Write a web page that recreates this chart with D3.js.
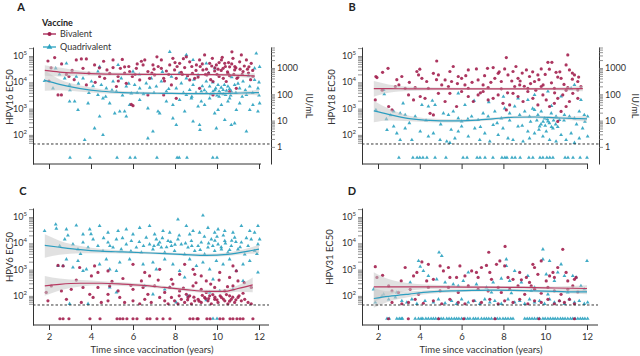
<!DOCTYPE html>
<html><head><meta charset="utf-8">
<script src="https://cdn.jsdelivr.net/npm/d3@7"></script>
<style>body{margin:0;background:#fff}svg{display:block}text{font-family:Lato,"Open Sans",sans-serif}</style>
</head><body>
<script>
// ---------- data: [years since vaccination, log10 EC50] ----------
const hpv16Bivalent = [[1.95,4.81],[2.27,4.94],[3.30,4.85],[3.54,4.89],[3.78,4.89],[5.05,4.85],[5.49,4.87],[6.56,4.85],[7.14,4.97],[7.35,4.85],[7.90,4.91],[8.54,4.97],[8.70,4.78],[9.17,4.85],[9.41,5.04],[9.78,4.91],[10.21,4.85],[10.71,5.16],[11.16,5.04],[11.40,4.85],[10.76,4.91],
[3.62,4.53],[4.17,4.66],[4.76,4.47],[5.05,4.56],[5.40,4.53],[5.60,4.59],[6.16,4.53],[6.48,4.66],[6.95,4.66],[7.35,4.53],[7.59,4.43],[7.75,4.66],[7.98,4.47],[8.22,4.72],[8.46,4.56],[9.02,4.66],[9.33,4.47],[9.65,4.72],[9.97,4.66],[10.29,4.53],[10.37,4.72],[10.60,4.59],[10.84,4.47],[11.08,4.78],[11.52,4.59],[11.63,4.72],[6.71,4.41],
[2.83,4.30],[2.95,4.22],[4.41,4.22],[4.65,4.15],[4.89,4.34],[5.29,4.22],[5.84,4.41],[5.97,4.22],[6.32,4.09],[6.79,4.15],[7.03,4.28],[7.46,4.15],[8.06,4.15],[8.35,4.30],[8.83,4.34],[8.94,4.15],[9.52,4.28],[9.89,4.43],[10.10,4.22],[10.52,4.34],[10.95,4.15],[11.24,4.41],[11.71,4.22],[8.70,4.09],[9.81,4.03],[10.44,4.03],
[2.43,3.52],[2.59,3.52],[3.78,3.90],[5.21,3.84],[5.92,3.16],[6.00,3.11],[6.71,3.52],[7.46,3.52],[8.06,3.39],[9.81,3.52],[9.17,3.77],[10.92,3.77],[5.68,3.96],[7.83,3.90],[10.60,3.65],
[8.1,4.6],[8.3,4.38],[8.6,4.25],[8.8,4.6],[9.0,4.45],[9.1,4.2],[9.3,4.7],[9.5,4.5],[9.6,4.35],[9.7,4.1],[9.9,4.55],[10.0,4.3],[10.1,4.75],[10.2,4.45],[10.3,4.15],[10.4,4.6],[10.5,4.4],[10.6,4.25],[10.7,4.7],[10.8,4.3],[10.9,4.55],[11.0,4.2],[11.1,4.5],[11.3,4.62],[11.5,4.35],[11.6,4.1],[6.2,4.7],[6.9,4.35],[7.2,4.6],[7.7,4.3],[5.6,4.35],[4.4,4.55],[3.1,4.45],[2.1,4.55],
[2.0,4.05],[2.6,4.7],[3.2,4.1],[3.9,4.35],[4.6,4.8],[5.3,4.05],[6.1,4.3],[6.4,4.8],[7.5,4.05],[8.0,4.75],[8.4,4.9],[9.2,4.6],[9.45,4.3],[9.75,4.62],[10.05,4.5],[10.25,4.95],[10.55,4.75],[10.85,4.6],[11.2,4.3],[11.45,4.5],[11.7,4.45],[7.0,4.5],[5.8,4.6],[4.2,4.0]];
const hpv16Quadrivalent = [[2.83,4.72],[4.41,4.59],[7.75,5.16],[8.54,5.04],[8.86,4.85],[9.49,4.72],[9.89,4.53],[11.87,5.10],[12.03,4.59],[11.79,4.53],[2.32,4.53],[1.79,4.05],[2.19,3.77],[6.00,4.41],[5.29,4.66],
[2.75,4.15],[2.98,3.90],[3.30,4.22],[3.62,4.15],[4.02,4.03],[4.33,4.41],[4.49,3.90],[4.73,3.77],[5.05,4.03],[5.21,3.65],[5.44,4.15],[5.68,3.84],[5.92,3.58],[6.08,3.90],[6.32,3.77],[6.63,3.96],[6.87,4.15],[7.11,3.84],[7.35,4.03],[7.59,3.65],[7.83,4.22],[8.06,3.77],[8.30,3.96],[8.54,4.15],[8.70,3.71],[8.86,3.90],[9.10,4.28],[9.25,3.65],[9.49,4.03],[9.65,3.84],[9.81,3.65],[9.94,3.77],[10.05,3.90],[10.16,3.58],[10.29,3.71],[10.41,3.52],[10.52,3.84],[10.68,3.65],[10.84,3.90],[11.08,3.77],[11.24,4.03],[11.40,3.52],[11.56,3.84],[11.79,4.09],[11.95,3.77],
[2.98,3.27],[3.22,3.27],[3.38,2.95],[3.86,3.20],[4.33,3.52],[4.57,3.39],[4.89,3.20],[5.13,2.82],[5.37,2.89],[5.60,2.89],[5.84,3.14],[6.32,3.33],[6.71,3.01],[7.19,2.89],[7.27,2.82],[7.59,3.27],[7.90,3.14],[8.22,3.33],[8.46,2.89],[8.78,3.39],[9.10,3.08],[9.25,3.27],[9.41,3.14],[9.89,2.82],[10.05,2.95],[10.21,3.14],[10.52,3.27],[10.60,3.39],[10.92,2.95],[11.08,3.20],[11.56,2.95],[11.71,3.14],[11.95,2.89],[12.03,3.20],[8.54,3.52],[9.65,3.39],
[4.17,2.25],[4.57,2.00],[4.41,2.70],[3.70,1.81],[5.68,2.70],[6.71,1.87],[6.95,2.13],[7.90,2.63],[8.06,2.38],[8.86,2.51],[9.17,2.38],[9.19,2.19],[9.97,2.25],[10.37,2.57],[10.68,2.38],[10.84,2.44],[11.40,2.13],
[9.5,3.6],[9.7,3.55],[9.9,3.7],[10.0,3.5],[10.1,3.65],[10.2,3.8],[10.3,3.55],[10.45,3.68],[10.6,3.75],[9.3,3.85],[9.0,3.6],[8.8,3.45],[10.9,3.6],[11.2,3.45],[7.0,3.6],[6.5,3.55],[5.5,3.5],[4.7,3.45],[3.9,3.6],[3.0,3.7],[8.2,4.35],[7.4,4.4],[6.3,4.3],[9.6,4.35],[10.7,4.2],[11.5,4.25],[12.0,4.0],[12.0,3.5],
[2.5,4.3],[3.4,3.95],[4.1,3.85],[5.0,3.7],[5.8,3.95],[6.2,3.6],[6.8,3.8],[7.7,3.75],[8.4,3.6],[8.9,4.1],[9.4,3.7],[9.8,4.0],[10.1,3.45],[10.35,3.9],[10.65,3.5],[11.0,3.95],[11.35,3.7],[11.7,3.6]];
const hpv16QuadUndetected = [3.0,3.95,5.24,5.86,6.1,7.14,8.1,8.2,8.57,9.8,10.0];
const hpv16BivUndetected = [];

const hpv18Bivalent = [[1.95,4.18],[1.90,4.22],[2.22,4.38],[2.48,4.53],[3.14,4.22],[3.86,4.41],[3.94,4.28],[4.10,4.15],[4.33,4.03],[4.65,4.34],[4.81,4.81],[4.89,4.28],[5.05,3.90],[5.21,4.09],[5.44,4.41],[5.52,4.03],[5.84,4.22],[6.00,4.15],[6.16,3.90],[6.32,4.47],[6.71,4.51],[6.79,4.09],[7.03,3.90],[7.24,4.53],[7.51,4.56],[7.59,4.15],[7.75,4.34],[7.90,4.03],[8.14,4.94],[8.06,4.51],[8.22,4.28],[8.46,4.41],[8.70,4.15],[8.78,3.90],[9.10,4.47],[9.25,4.22],[9.49,4.03],[9.65,4.28],[9.81,4.51],[10.13,4.76],[10.32,4.76],[10.52,4.38],[10.76,4.15],[11.08,5.04],[11.00,4.66],[11.16,4.47],[11.40,4.28],[11.56,4.03],[11.71,3.84],
[1.87,3.33],[2.51,3.08],[2.67,2.95],[3.46,3.52],[3.70,3.33],[4.02,3.46],[4.25,3.39],[4.49,2.82],[4.65,2.76],[4.89,3.58],[5.21,3.27],[5.44,3.58],[5.76,3.08],[6.00,3.65],[6.32,3.46],[6.56,3.27],[6.79,3.52],[7.03,3.65],[7.27,3.33],[7.51,3.39],[7.75,3.52],[7.98,3.20],[8.14,2.95],[8.30,3.14],[8.46,3.58],[8.70,3.46],[8.94,3.27],[9.17,3.65],[9.41,3.39],[9.65,3.14],[9.89,3.52],[10.05,3.33],[10.21,3.08],[10.44,3.20],[10.60,3.39],[10.84,3.52],[11.00,3.08],[11.16,3.27],[11.32,3.58],[11.56,3.39],[10.76,2.89],[10.60,2.51],
[2.83,3.84],[3.30,3.77],[3.78,3.80],[4.41,3.77],[5.37,3.84],[6.32,3.77],[7.27,3.80],[7.90,3.75],[8.54,3.84],[9.17,3.77],[9.81,3.84],[10.44,3.77],[11.08,3.80],[11.56,3.71],
[8.4,4.05],[8.9,4.35],[9.3,3.95],[9.7,4.1],[10.0,4.3],[10.3,3.98],[10.6,4.2],[10.9,3.92],[11.3,4.12],[7.1,4.25],[6.5,4.0],[5.8,3.95],[3.5,4.0],[2.9,4.1],
[2.2,3.7],[3.0,3.9],[4.0,4.5],[4.8,4.1],[5.6,4.6],[6.2,4.25],[6.9,3.6],[7.4,4.0],[7.8,4.4],[8.2,3.6],[8.6,4.6],[9.0,3.85],[9.4,4.4],[9.9,3.9],[10.2,4.5],[10.45,3.6],[10.7,4.4],[11.0,3.7],[11.3,4.35],[11.6,4.2],[8.8,4.05],[9.55,3.7]];
const hpv18Quadrivalent = [[2.27,3.71],[9.49,3.52],[10.13,3.65],[10.76,3.46],[11.24,3.77],[11.40,3.90],[11.71,3.33],[9.17,3.33],[8.70,3.39],[5.84,3.58],[8.0,3.45],[7.3,3.25],[6.6,3.3],[4.6,3.3],[3.2,3.2],[2.3,3.55],
[2.75,2.89],[3.06,2.82],[3.30,2.76],[3.78,2.70],[4.10,3.14],[4.41,3.08],[4.73,3.14],[5.13,2.82],[5.37,2.76],[5.60,2.89],[5.84,2.63],[6.00,2.51],[6.16,3.14],[6.48,2.70],[6.79,2.57],[7.03,2.82],[7.27,2.70],[7.59,2.89],[7.90,2.63],[8.06,3.01],[8.30,2.82],[8.54,3.08],[8.78,2.76],[9.02,2.89],[9.25,2.70],[9.49,2.95],[9.65,2.76],[9.81,2.89],[9.97,2.63],[10.13,2.51],[10.29,2.82],[10.52,2.70],[10.68,2.57],[10.92,2.76],[11.16,2.70],[11.40,2.63],[11.63,2.89],[11.87,2.76],[12.03,2.70],
[2.43,2.19],[2.75,2.32],[2.90,2.06],[3.06,1.81],[3.30,2.25],[3.62,1.81],[4.02,2.13],[4.41,1.94],[4.65,2.06],[4.97,1.81],[5.29,1.75],[5.44,1.70],[5.68,1.87],[5.84,2.13],[6.00,2.32],[6.32,1.94],[6.63,2.25],[6.87,1.81],[7.11,2.06],[7.35,1.75],[7.51,2.38],[7.75,2.00],[7.98,2.25],[8.22,1.87],[8.46,1.81],[8.70,2.32],[8.94,1.75],[9.17,2.13],[9.25,1.87],[9.49,2.06],[9.73,2.32],[9.89,1.94],[10.05,2.13],[10.21,1.81],[10.37,2.25],[10.52,1.75],[10.76,2.00],[11.00,1.81],[11.24,2.06],[11.40,1.70],[11.63,1.87],[11.79,2.25],[12.03,1.94],
[1.9,2.95],[2.4,2.6],[2.6,2.75],[9.8,2.4],[9.9,2.5],[10.0,2.35],[10.1,2.6],[10.2,2.45],[10.3,2.3],[10.4,2.55],[10.5,2.4],[9.6,2.55],[9.7,2.2],
[3.5,2.45],[4.3,2.55],[5.0,2.4],[5.5,2.2],[6.3,2.6],[6.9,2.3],[7.7,2.45],[8.3,2.55],[8.9,2.35],[9.3,2.5],[10.6,2.3],[10.9,2.55],[11.5,2.4],[11.9,2.5],[9.4,3.0],[10.3,3.1]];
const hpv18QuadUndetected = [3.0,3.67,3.87,4.0,4.15,4.34,4.73,5.25,6.07,6.26,6.74,6.88,7.12,7.5,7.93,8.07,8.17,8.41,8.56,8.8,9.22,9.41,9.75,9.89,10.08,10.22,10.37,10.95,11.09,11.33,11.67,12.0];
const hpv18BivUndetected = [];

const hpv6Bivalent = [[2.43,3.16],[2.67,3.14],[3.46,3.08],[4.02,2.76],[4.17,3.14],[4.33,2.89],[4.81,2.95],[6.00,3.20],[6.56,2.89],[6.79,2.76],[7.27,3.01],[7.83,2.63],[8.22,2.82],[8.46,3.20],[8.86,3.01],[8.94,2.82],[9.25,2.76],[9.49,2.57],[10.13,2.89],[10.60,2.70],[10.76,3.14],[10.92,2.95],[11.00,2.57],[6.40,2.57],[5.52,2.66],
[1.87,2.13],[2.11,2.38],[2.59,2.19],[3.06,2.25],[3.62,2.32],[4.33,2.32],[4.89,2.38],[5.29,2.19],[6.00,2.25],[6.48,2.32],[6.71,2.06],[7.03,2.38],[7.51,2.13],[7.75,2.32],[8.22,2.19],[8.54,2.06],[8.86,2.38],[9.25,2.25],[9.49,2.13],[9.89,2.32],[10.37,2.19],[10.76,2.38],[11.24,2.10],[11.63,2.32],[4.81,2.06],[3.94,2.06],
[1.95,1.81],[2.83,1.87],[3.54,1.75],[4.10,1.94],[4.49,1.75],[4.81,1.81],[5.37,1.94],[5.60,1.75],[6.00,1.81],[6.32,1.70],[6.56,1.87],[6.87,1.75],[7.27,1.94],[7.51,1.81],[7.67,1.70],[7.83,1.94],[7.98,1.81],[8.14,1.70],[8.30,1.87],[8.46,1.75],[8.62,1.94],[8.78,1.70],[8.94,1.81],[9.10,1.87],[9.25,1.75],[9.41,1.94],[9.57,1.81],[9.73,1.70],[9.89,1.87],[10.05,1.75],[10.21,1.94],[10.37,1.81],[10.52,1.70],[10.68,1.87],[10.84,1.75],[11.00,1.94],[11.16,1.81],[11.32,1.87],[11.48,1.75],[11.63,1.70],[8.70,2.00],[9.65,2.00],[10.60,2.00],
[9.3,2.02],[9.6,1.9],[9.8,2.05],[10.0,1.85],[10.15,2.0],[10.3,1.88],[10.45,2.05],[10.6,1.8],[10.75,1.95],[10.9,1.85],[11.05,2.0],[8.9,1.95],[8.6,1.85],[8.2,2.0],
[3.3,2.6],[5.0,2.55],[5.9,2.4],[7.2,2.6],[7.9,2.45],[8.4,2.3],[9.0,2.5],[9.7,2.45],[10.1,2.6],[10.5,2.35],[11.3,2.5],[9.15,1.8],[9.45,1.9],[9.9,1.95]];
const hpv6Quadrivalent = [[1.79,4.47],[2.32,4.72],[2.35,4.56],[2.83,4.53],[3.30,4.68],[3.62,4.34],[3.94,4.53],[4.41,4.66],[4.81,4.41],[5.29,4.47],[5.68,4.53],[6.00,4.34],[6.32,4.59],[6.79,4.66],[7.03,4.34],[7.43,4.47],[7.75,4.41],[8.14,4.91],[8.54,4.66],[8.86,4.47],[9.17,4.41],[9.33,5.06],[9.57,4.59],[9.89,4.41],[10.05,4.53],[10.37,4.47],[10.76,4.41],[11.16,4.66],[11.56,4.47],[11.95,4.66],[11.79,4.41],[8.70,4.34],
[2.51,3.90],[2.75,4.15],[3.14,3.96],[3.38,3.77],[3.62,4.03],[3.86,3.84],[4.10,4.15],[4.33,3.90],[4.57,3.71],[4.81,4.03],[5.05,3.84],[5.21,4.15],[5.44,3.77],[5.68,3.96],[5.92,4.09],[6.16,3.84],[6.40,3.65],[6.63,4.22],[6.79,3.96],[6.95,3.77],[7.11,4.15],[7.27,4.03],[7.35,3.84],[7.51,3.65],[7.67,4.09],[7.83,3.90],[7.98,3.71],[8.14,4.15],[8.30,3.96],[8.46,3.58],[8.62,3.84],[8.78,4.09],[8.94,3.71],[9.10,3.90],[9.25,4.03],[9.41,3.58],[9.57,3.84],[9.73,4.15],[9.89,3.71],[10.05,3.96],[10.21,3.77],[10.37,4.09],[10.52,3.65],[10.68,3.90],[10.84,4.22],[11.00,3.77],[11.16,4.03],[11.32,3.58],[11.48,3.90],[11.63,4.15],[11.79,3.71],[11.95,3.96],[12.03,4.15],
[7.2,3.95],[7.4,4.2],[7.6,3.85],[7.8,4.05],[8.0,3.95],[9.6,4.0],[9.8,3.9],[10.0,4.25],[10.2,3.85],[10.4,4.0],[10.6,3.75],[10.9,4.05],[6.5,3.9],[5.5,4.2],[4.9,3.9],[3.5,3.6],
[2.9,4.3],[4.0,4.35],[4.6,4.2],[5.9,3.7],[6.3,4.05],[7.0,3.9],[8.2,4.3],[8.5,4.0],[8.8,3.9],[9.2,3.75],[9.4,4.25],[9.9,4.1],[10.3,4.3],[10.7,4.1],[11.1,3.85],[11.4,4.2],[11.9,3.6],
[2.43,3.14],[2.67,3.14],[2.83,3.39],[3.14,3.08],[3.38,3.33],[3.62,2.95],[3.78,3.01],[4.41,3.20],[4.73,3.39],[4.89,3.01],[5.37,3.27],[5.84,3.39],[6.48,3.20],[6.95,3.27],[7.11,3.01],[7.51,3.39],[7.90,3.20],[8.22,2.95],[8.70,3.39],[9.02,3.14],[9.33,3.27],[9.65,3.01],[9.97,3.33],[10.29,3.20],[10.60,3.39],[10.92,2.95],[11.24,3.20],[11.56,3.33],[11.95,2.89],[5.21,2.95],
[2.98,1.70],[3.86,1.70],[4.89,2.32],[5.21,2.13],[6.56,2.38],[6.95,2.06],[7.51,2.25],[7.75,2.32],[8.06,1.75],[9.65,2.13],[10.13,2.19],[10.76,2.25],[11.24,2.57],[8.46,2.70],[9.81,2.63],[8.62,2.00],[9.49,1.84]];
const hpv6BivUndetected = [2.52,2.67,2.95,3.95,4.43,5.24,5.38,5.52,5.71,6.0,6.19,6.67,6.81,7.14,7.43,7.76,8.71,8.86,9.05,9.1,9.52,9.67,10.14,10.29,10.62,10.76,10.95,11.1,11.24,11.71];
const hpv6QuadUndetected = [9.81,10.0];

const hpv31Bivalent = [[1.87,3.11],[1.95,2.70],[2.22,2.78],[3.11,2.57],[3.30,3.08],[3.70,2.76],[3.86,2.89],[4.10,3.29],[4.33,2.57],[4.41,3.20],[4.65,2.63],[4.97,3.14],[5.13,2.95],[5.37,3.08],[5.44,2.70],[5.76,2.70],[5.92,3.14],[6.16,2.76],[6.48,2.95],[6.71,2.89],[6.79,2.70],[6.95,3.08],[7.19,3.16],[7.35,2.89],[7.43,2.63],[7.3,3.66],[7.67,3.20],[7.83,3.33],[8.08,3.88],[8.06,3.14],[8.22,2.70],[8.46,2.63],[8.78,2.89],[8.86,2.61],[9.10,2.70],[9.25,2.51],[9.33,2.38],[9.41,3.20],[9.49,3.08],[9.65,2.82],[9.81,3.33],[10.05,2.57],[10.21,2.76],[10.37,2.89],[10.44,2.70],[10.60,3.08],[10.84,3.77],[11.00,2.89],[11.08,2.57],[11.40,2.63],[11.48,2.70],
[2.51,2.38],[2.67,2.19],[2.98,2.13],[3.54,2.25],[3.94,2.06],[4.41,2.32],[4.97,2.19],[5.37,2.32],[5.84,2.13],[6.32,2.38],[6.79,2.25],[7.27,2.19],[7.75,2.32],[7.90,2.13],[8.30,2.25],[8.70,2.38],[9.02,2.06],[9.49,2.25],[9.81,2.10],[10.13,2.32],[10.44,2.19],[10.76,2.06],[11.08,2.25],[11.32,2.38],[11.56,2.15],
[2.67,1.75],[3.14,1.70],[3.46,1.75],[3.78,1.87],[4.17,1.72],[4.65,1.81],[5.05,1.70],[5.44,1.87],[5.84,1.75],[6.16,1.70],[6.56,1.81],[6.95,1.75],[7.35,1.87],[7.75,1.70],[8.06,1.81],[8.46,1.75],[8.78,1.87],[9.17,1.70],[9.49,1.81],[9.81,1.75],[10.13,1.87],[10.44,1.70],[10.68,1.81],[10.92,1.75],[11.16,1.87],[11.40,1.70]];
const hpv31Quadrivalent = [[1.79,2.25],[2.19,2.00],[2.90,2.13],[3.54,2.51],[3.94,3.33],[4.02,3.11],[4.17,2.95],[4.41,2.76],[4.81,2.63],[4.92,3.65],[5.05,3.52],[5.21,2.51],[5.60,2.44],[5.84,2.38],[6.08,2.57],[6.32,2.89],[6.71,2.44],[7.19,2.32],[7.51,2.51],[7.90,2.66],[8.14,3.39],[8.14,3.14],[8.30,2.57],[8.54,2.95],[8.86,2.51],[9.17,2.76],[9.49,2.32],[9.89,3.77],[9.89,3.39],[10.05,2.82],[10.21,3.33],[10.44,2.57],[10.60,2.89],[10.76,3.20],[10.92,2.76],[11.32,2.76],[11.48,2.70],[11.71,2.38],[12.00,3.33],[11.87,2.25],
[1.87,1.75],[2.27,2.06],[2.51,1.87],[2.83,1.94],[3.14,1.81],[3.38,1.75],[3.62,1.87],[3.86,1.70],[4.25,1.81],[4.65,1.75],[4.89,1.87],[5.21,1.72],[5.52,1.81],[5.76,1.70],[6.00,1.87],[6.32,1.75],[6.63,1.81],[6.87,1.70],[7.11,1.87],[7.35,1.75],[7.59,1.81],[7.90,1.70],[8.22,1.87],[8.54,1.75],[8.78,1.81],[9.02,1.70],[9.25,1.87],[9.49,1.75],[9.73,1.81],[9.97,1.70],[10.21,1.87],[10.44,1.75],[10.68,1.81],[10.92,1.70],[11.16,1.87],[11.40,1.75],[11.63,1.81],[11.87,1.70],[12.03,1.75],[7.43,2.13],[8.38,2.10],[9.33,2.19],[10.13,2.06],[11.08,2.13]];
const hpv31QuadUndetected = [2.43,2.54,2.90,3.02,3.11,3.17,3.78,3.94,4.06,4.14,4.29,4.41,4.54,4.65,4.76,4.89,5.02,5.13,5.29,5.40,5.52,5.65,5.76,5.87,6.00,6.16,6.29,6.40,6.56,6.67,6.79,6.95,7.08,7.19,7.30,7.43,7.59,7.71,7.83,7.98,8.10,8.22,8.35,8.46,9.02,9.14,9.25,9.37,9.49,9.62,9.73,9.89,10.0,10.13,10.25,10.37,10.48,10.60,10.73,10.84,10.95,11.08,11.21,11.32,11.43,11.56,11.68,11.79,11.90,12.03];
const hpv31BivUndetected = [2.5,3.45,4.9,6.1,7.6,9.7,11.4];

// smoothed fits: [years, log10 fit, log10 lower, log10 upper]
const hpv16BivFit = [[1.8,4.45,4.25,4.65],[2.5,4.39,4.22,4.56],[3.5,4.35,4.26,4.44],[5,4.31,4.25,4.37],[6.5,4.30,4.25,4.35],[8,4.30,4.26,4.34],[9.5,4.29,4.25,4.33],[10.5,4.28,4.23,4.33],[11.8,4.24,4.14,4.34]];
const hpv16QuadFit = [[1.8,4.07,3.68,4.45],[2.5,3.92,3.70,4.12],[3.5,3.76,3.64,3.88],[4.5,3.66,3.58,3.74],[5.5,3.61,3.55,3.67],[6.5,3.59,3.54,3.64],[7.5,3.58,3.54,3.63],[8.5,3.57,3.53,3.62],[9.5,3.57,3.52,3.62],[10.5,3.58,3.52,3.64],[11.5,3.60,3.52,3.68],[12,3.61,3.50,3.72]];
const hpv18BivFit = [[1.8,3.76,3.45,4.05],[2.5,3.76,3.60,3.92],[3.5,3.75,3.67,3.83],[5,3.75,3.70,3.80],[7,3.75,3.71,3.79],[9,3.75,3.71,3.79],[10.5,3.75,3.70,3.80],[11.8,3.76,3.66,3.86]];
const hpv18QuadFit = [[1.8,2.91,2.48,3.30],[2.5,2.78,2.55,3.00],[3.5,2.62,2.52,2.73],[4.5,2.55,2.48,2.62],[5.5,2.53,2.47,2.59],[6.5,2.55,2.50,2.60],[7.5,2.61,2.56,2.66],[8.5,2.67,2.62,2.72],[9.5,2.68,2.63,2.73],[10.5,2.65,2.59,2.71],[11.5,2.62,2.54,2.70],[12,2.61,2.50,2.72]];
const hpv6BivFit = [[1.8,2.38,2.00,2.76],[2.5,2.44,2.20,2.66],[3.5,2.48,2.36,2.60],[4.5,2.48,2.40,2.56],[5.5,2.45,2.38,2.52],[6.5,2.40,2.34,2.46],[7.5,2.32,2.26,2.38],[8.5,2.24,2.18,2.30],[9.5,2.17,2.11,2.23],[10.3,2.17,2.10,2.24],[11,2.28,2.16,2.40],[11.7,2.42,2.14,2.70]];
const hpv6QuadFit = [[1.8,3.92,3.45,4.34],[2.5,3.85,3.56,4.10],[3.5,3.76,3.62,3.90],[4.5,3.70,3.62,3.78],[5.5,3.67,3.61,3.73],[6.5,3.64,3.59,3.69],[7.5,3.61,3.56,3.66],[8.5,3.57,3.52,3.62],[9.5,3.54,3.49,3.60],[10.5,3.58,3.52,3.65],[11.5,3.70,3.60,3.82],[12,3.78,3.62,3.94]];
const hpv31BivFit = [[1.8,2.34,1.74,2.90],[2.5,2.34,2.02,2.64],[3.5,2.34,2.20,2.48],[5,2.34,2.27,2.41],[7,2.33,2.28,2.38],[9,2.32,2.27,2.37],[10.5,2.30,2.24,2.36],[12,2.28,2.16,2.40]];
const hpv31QuadFit = [[1.8,1.90,1.55,2.30],[2.5,1.98,1.78,2.18],[3.5,2.07,1.96,2.18],[4.5,2.15,2.08,2.22],[5.5,2.19,2.13,2.25],[6.5,2.21,2.16,2.26],[7.5,2.22,2.17,2.27],[8.5,2.21,2.16,2.26],[9.5,2.19,2.14,2.24],[10.5,2.17,2.11,2.23],[11.5,2.15,2.08,2.22],[12,2.15,2.06,2.24]];

const xTicks = [2,4,6,8,10,12];
const yMajor = [100,1000,10000,100000];
const iuTicks = [1,10,100,1000];
const lod = 45;                 // dashed limit-of-detection line
const undetectedLevel = 13.5;   // plotting level for undetectable samples
const iuFactor = 35;            // EC50 units per IU/mL
const seriesNames = ["Bivalent","Quadrivalent"];

// ---------- layout ----------
const colBiv = "#a3204f", colQuad = "#2ba2c0";
const svg = d3.select("body").append("svg").attr("width",640).attr("height",356);
const pw = v => Math.pow(10, v);
const yDomain = [7.8, 220000];

const panels = [
  {tag:"A", ylab:"HPV16 EC50", biv:hpv16Bivalent, quad:hpv16Quadrivalent, bivU:hpv16BivUndetected, quadU:hpv16QuadUndetected, bivFit:hpv16BivFit, quadFit:hpv16QuadFit,
   left:33, x2:49, x12:259, xEnd:261, top:47, bot:164, right:271, dashEnd:271, xlabels:false, tagX:21, tagY:11, ylabX:13, ylabY:97, iuX:306},
  {tag:"B", ylab:"HPV18 EC50", biv:hpv18Bivalent, quad:hpv18Quadrivalent, bivU:hpv18BivUndetected, quadU:hpv18QuadUndetected, bivFit:hpv18BivFit, quadFit:hpv18QuadFit,
   left:362, x2:378, x12:587, xEnd:588, top:47, bot:164, right:599, dashEnd:599, xlabels:false, tagX:352, tagY:11, ylabX:335, ylabY:97, iuX:632},
  {tag:"C", ylab:"HPV6 EC50", biv:hpv6Bivalent, quad:hpv6Quadrivalent, bivU:hpv6BivUndetected, quadU:hpv6QuadUndetected, bivFit:hpv6BivFit, quadFit:hpv6QuadFit,
   left:33, x2:49, x12:259, xEnd:269, top:208, bot:325, right:null, dashEnd:269, xlabels:true, tagX:23, tagY:195, ylabX:13, ylabY:257, xtitleX:152},
  {tag:"D", ylab:"HPV31 EC50", biv:hpv31Bivalent, quad:hpv31Quadrivalent, bivU:hpv31BivUndetected, quadU:hpv31QuadUndetected, bivFit:hpv31BivFit, quadFit:hpv31QuadFit,
   left:362, x2:378, x12:587, xEnd:598, top:208, bot:325, right:null, dashEnd:598, xlabels:true, tagX:352, tagY:195, ylabX:333, ylabY:257, xtitleX:481}
];

const tri = d3.symbol().type(d3.symbolTriangle).size(6.5);

panels.forEach(p => {
  const g = svg.append("g");
  const x = d3.scaleLinear().domain([2,12]).range([p.x2, p.x12]);
  const y = d3.scaleLog().domain(yDomain).range([p.bot, p.top]);

  const drawQuad = (arr) => g.append("g").selectAll("path").data(arr).join("path")
      .attr("d", tri).attr("transform", d => `translate(${x(d[0])},${y(pw(d[1]))})`)
      .attr("fill", colQuad).attr("opacity", 0.9);
  const drawBiv = (arr) => g.append("g").selectAll("circle").data(arr).join("circle")
      .attr("cx", d => x(d[0])).attr("cy", d => y(pw(d[1]))).attr("r", 1.6)
      .attr("fill", colBiv).attr("opacity", 0.9);
  const u = v => [v, Math.log10(undetectedLevel)];
  drawQuad(p.quad); drawBiv(p.biv);
  drawQuad(p.quadU.map(u)); drawBiv(p.bivU.map(u));

  // bands + fits
  const area = d3.area().curve(d3.curveMonotoneX).x(d => x(d[0])).y0(d => y(pw(d[2]))).y1(d => y(pw(d[3])));
  const line = d3.line().curve(d3.curveMonotoneX).x(d => x(d[0])).y(d => y(pw(d[1])));
  [p.bivFit, p.quadFit].forEach(f => g.append("path").attr("d", area(f)).attr("fill", "#c8c8c8").attr("opacity", 0.55));
  g.append("path").attr("d", line(p.bivFit)).attr("fill","none").attr("stroke","#b83a62").attr("stroke-width",1.2);
  g.append("path").attr("d", line(p.quadFit)).attr("fill","none").attr("stroke","#2c9ec0").attr("stroke-width",1.2);

  // LOD line
  g.append("line").attr("x1", p.left).attr("x2", p.dashEnd).attr("y1", y(lod)).attr("y2", y(lod))
    .attr("stroke","#222").attr("stroke-width",0.9).attr("stroke-dasharray","2.5,2");

  // left axis
  const minor = [];
  for (let k = 1; k <= 5; k++) for (let m = 1; m <= 9; m++) { const v = m*Math.pow(10,k); if (v >= 50 && v <= yDomain[1]) minor.push(v); }
  const la = g.append("g").attr("transform", `translate(${p.left},0)`)
    .call(d3.axisLeft(y).tickValues(minor).tickSize(4).tickSizeOuter(0).tickFormat(""));
  la.select(".domain").attr("stroke","#333");
  la.selectAll(".tick line").attr("stroke","#777").attr("stroke-width",0.8);
  yMajor.forEach(v => {
    const t = g.append("text").attr("x", p.left-6).attr("y", y(v)+3).attr("text-anchor","end")
      .attr("font-size",9).attr("fill","#333");
    t.append("tspan").text("10");
    t.append("tspan").attr("dy",-4).attr("font-size",6).text(String(Math.round(Math.log10(v))));
  });
  g.append("text").attr("transform", `translate(${p.ylabX},${p.ylabY}) rotate(-90)`)
    .attr("text-anchor","middle").attr("font-size",9.5).attr("fill","#333").text(p.ylab);

  // bottom axis
  const ba = g.append("g").attr("transform", `translate(0,${p.bot})`)
    .call(d3.axisBottom(x).tickValues(xTicks).tickSize(5).tickSizeOuter(0).tickPadding(3)
      .tickFormat(p.xlabels ? d3.format("d") : ""));
  ba.select(".domain").remove();
  ba.selectAll(".tick line").attr("stroke","#333");
  ba.selectAll("text").attr("font-size",9.5).attr("fill","#333").style("font-family","Lato");
  g.append("line").attr("x1",p.left).attr("x2",p.xEnd).attr("y1",p.bot).attr("y2",p.bot).attr("stroke","#333");
  if (p.xlabels) g.append("text").attr("x", p.xtitleX).attr("y", 353).attr("text-anchor","middle")
      .attr("font-size",9.5).attr("fill","#333").text("Time since vaccination (years)");

  // right IU axis
  if (p.right) {
    const yr = d3.scaleLog().domain([yDomain[0]/iuFactor, yDomain[1]/iuFactor]).range([p.bot, p.top]);
    const rt = [];
    for (let k = 0; k <= 3; k++) for (let m = 1; m <= 9; m++) { const v = m*Math.pow(10,k); if (v <= yDomain[1]/iuFactor) rt.push(v); }
    const ra = g.append("g").attr("transform", `translate(${p.right},0)`)
      .call(d3.axisRight(yr).tickValues(rt).tickSize(4).tickSizeOuter(0).tickPadding(2)
        .tickFormat(v => iuTicks.includes(v) ? String(v) : ""));
    ra.select(".domain").attr("stroke","#333");
    ra.selectAll(".tick line").attr("stroke","#777").attr("stroke-width",0.8);
    ra.selectAll("text").attr("font-size",9).attr("fill","#333").style("font-family","Lato");
    g.append("text").attr("transform", `translate(${p.iuX},106) rotate(90)`)
      .attr("text-anchor","middle").attr("font-size",9).attr("fill","#333").text("IU/mL");
  }

  g.append("text").attr("x", p.tagX).attr("y", p.tagY).attr("text-anchor","middle")
    .attr("font-size",11).attr("font-weight","bold").attr("fill","#222").text(p.tag);
});

// legend
const lg = svg.append("g");
lg.append("text").attr("x",42).attr("y",26).attr("font-size",9).attr("font-weight","bold").attr("fill","#222").text("Vaccine");
seriesNames.forEach((name,i) => {
  const yy = 34 + i*13, col = i === 0 ? colBiv : colQuad;
  lg.append("line").attr("x1",43).attr("x2",56).attr("y1",yy).attr("y2",yy).attr("stroke",col).attr("stroke-width",1.3);
  if (i === 0) lg.append("circle").attr("cx",49.5).attr("cy",yy).attr("r",2).attr("fill",col);
  else lg.append("path").attr("d",d3.symbol().type(d3.symbolTriangle).size(14)).attr("transform",`translate(49.5,${yy})`).attr("fill",col);
  lg.append("text").attr("x",60).attr("y",yy+3).attr("font-size",9).attr("fill","#333").text(name);
});
</script>
</body></html>
